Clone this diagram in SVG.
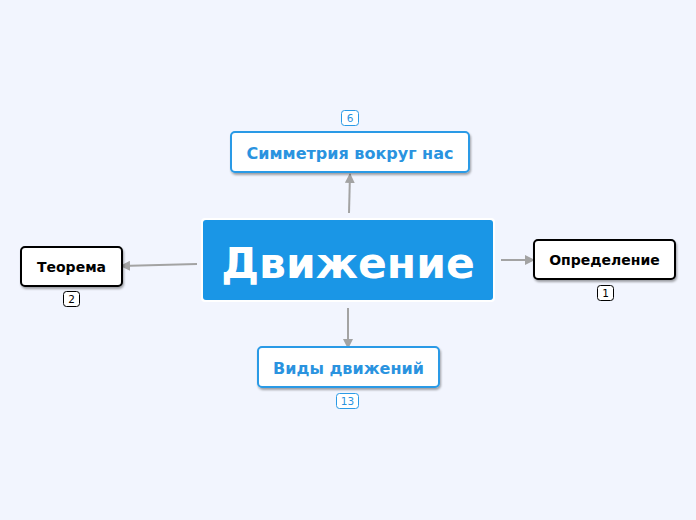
<svg xmlns="http://www.w3.org/2000/svg" width="696" height="520" viewBox="0 0 696 520">
<defs>
<marker id="arr" viewBox="0 0 10 10" refX="9" refY="5" markerWidth="10" markerHeight="10" markerUnits="userSpaceOnUse" orient="auto">
<path d="M0,0 L10,5 L0,10 z" fill="#a3a3a3"/>
</marker>
<filter id="sh" x="-10%" y="-20%" width="120%" height="150%">
<feDropShadow dx="1" dy="2" stdDeviation="1.2" flood-color="#000" flood-opacity="0.35"/>
</filter>
</defs>
<style>
text{font-family:"DejaVu Sans",Verdana,sans-serif;font-weight:bold;text-anchor:middle}
.blue{fill:#fff;stroke:#2a9ae6;stroke-width:2}
.black{fill:#fff;stroke:#000;stroke-width:2}
.bt{fill:#2a93df;font-size:16px}
.kt{fill:#000;font-size:14px}
.badgeb{fill:#fff;stroke:#2a9ae6;stroke-width:1}
.badgek{fill:#fff;stroke:#000;stroke-width:1}
.nb{font-weight:normal;font-size:10.5px}
.conn{stroke:#a3a3a3;stroke-width:2;fill:none}
</style>
<rect width="696" height="520" fill="#f2f5fe"/>
<g id="connectors">
<line class="conn" x1="349" y1="213" x2="350" y2="174" marker-end="url(#arr)"/>
<line class="conn" x1="197" y1="264" x2="121" y2="266" marker-end="url(#arr)"/>
<line class="conn" x1="501" y1="260" x2="534" y2="260" marker-end="url(#arr)"/>
<line class="conn" x1="348" y1="308" x2="348" y2="348" marker-end="url(#arr)"/>
</g>
<g id="center">
<rect x="201" y="218" width="294" height="84" rx="4" fill="#fff"/>
<rect x="203" y="220" width="290" height="80" rx="3" fill="#1a96e6"/>
<text x="348" y="278" font-size="42.5" fill="#fff">Движение</text>
</g>
<g id="symmetry">
<rect class="blue" x="231" y="132" width="238" height="40" rx="4" filter="url(#sh)"/>
<text class="bt" x="350" y="159">Симметрия вокруг нас</text>
<rect class="badgeb" x="341.5" y="110.5" width="17" height="15" rx="3"/>
<text class="nb" x="350" y="122" fill="#2a93df">6</text>
</g>
<g id="theorem">
<rect class="black" x="21" y="247" width="101" height="39" rx="4" filter="url(#sh)"/>
<text class="kt" x="71.5" y="272">Теорема</text>
<rect class="badgek" x="63.5" y="291.5" width="16" height="15" rx="3"/>
<text class="nb" x="71.5" y="303" fill="#000">2</text>
</g>
<g id="definition">
<rect class="black" x="534" y="240" width="141" height="39" rx="4" filter="url(#sh)"/>
<text class="kt" x="604.5" y="265">Определение</text>
<rect class="badgek" x="597.5" y="285.5" width="16" height="15" rx="3"/>
<text class="nb" x="605.5" y="297" fill="#000">1</text>
</g>
<g id="kinds">
<rect class="blue" x="258" y="347" width="181" height="40" rx="4" filter="url(#sh)"/>
<text class="bt" x="348.5" y="374">Виды движений</text>
<rect class="badgeb" x="336.5" y="393.5" width="22" height="15" rx="3"/>
<text class="nb" x="347.5" y="405" fill="#2a93df">13</text>
</g>
</svg>
